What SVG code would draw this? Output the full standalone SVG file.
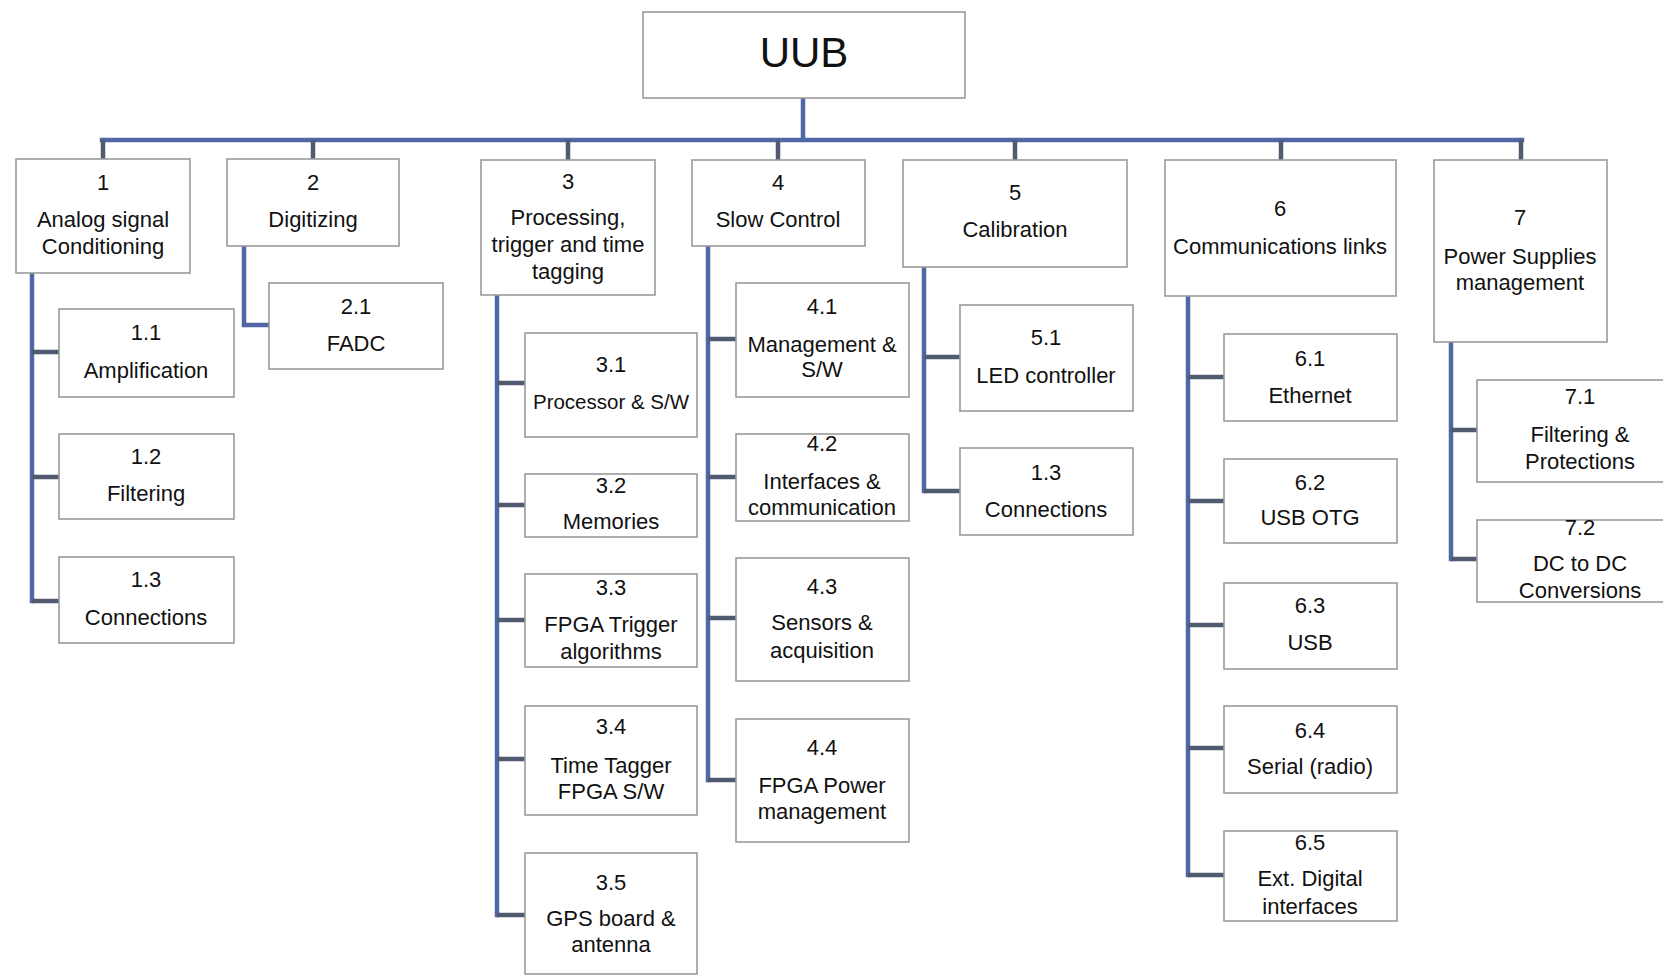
<svg xmlns="http://www.w3.org/2000/svg" width="1663" height="976" viewBox="0 0 1663 976">
<style>
.bg{fill:#ffffff}
.box{fill:#ffffff;stroke:#9a9a9a;stroke-width:1.6}
.t{font-family:"Liberation Sans",Arial,sans-serif;font-size:22px;fill:#111;text-anchor:middle}
.big{font-family:"Liberation Sans",Arial,sans-serif;font-size:42px;fill:#111;text-anchor:middle}
.conn{fill:none;stroke:#5067a6;stroke-width:4.5;stroke-linecap:square;stroke-linejoin:miter}
.drop{fill:none;stroke:#505a70;stroke-width:4.5}
</style>
<rect class="bg" x="0" y="0" width="1663" height="976"/>
<g id="connectors">
<path class="conn" d="M803 98 V140 M102 140 H1522"/>
<path class="drop" d="M103 140 V159 M313 140 V159 M568 140 V160 M778 140 V160 M1015 140 V160 M1281 140 V160 M1521 140 V160"/>
<path class="conn" d="M32 273 V601 M244 246 V325 H269 M497 295 V915 M708 246 V780 M924 267 V491 M1188 296 V875 M1451 342 V559"/>
<path class="drop" d="M32 352 H59 M32 477 H59 M32 601 H59"/>
<path class="drop" d="M497 383 H525 M497 505 H525 M497 620 H525 M497 759 H525 M497 915 H525"/>
<path class="drop" d="M708 339 H736 M708 477 H736 M708 618 H736 M708 780 H736"/>
<path class="drop" d="M924 357 H960 M924 491 H960"/>
<path class="drop" d="M1188 377 H1224 M1188 501 H1224 M1188 625 H1224 M1188 748 H1224 M1188 875 H1224"/>
<path class="drop" d="M1451 430 H1477 M1451 559 H1477"/>
</g>
<g id="uub"><rect class="box" x="643" y="12" width="322" height="86"/><text class="big" x="804" y="67">UUB</text></g>
<g id="n1"><rect class="box" x="16" y="159" width="174" height="114"/><text class="t" x="103" y="190">1</text><text class="t" x="103" y="227">Analog signal</text><text class="t" x="103" y="254">Conditioning</text></g>
<g id="n2"><rect class="box" x="227" y="159" width="172" height="87"/><text class="t" x="313" y="190">2</text><text class="t" x="313" y="227">Digitizing</text></g>
<g id="n3"><rect class="box" x="481" y="160" width="174" height="135"/><text class="t" x="568" y="189">3</text><text class="t" x="568" y="225">Processing,</text><text class="t" x="568" y="252">trigger and time</text><text class="t" x="568" y="279">tagging</text></g>
<g id="n4"><rect class="box" x="692" y="160" width="173" height="86"/><text class="t" x="778" y="190">4</text><text class="t" x="778" y="227">Slow Control</text></g>
<g id="n5"><rect class="box" x="903" y="160" width="224" height="107"/><text class="t" x="1015" y="200">5</text><text class="t" x="1015" y="237">Calibration</text></g>
<g id="n6"><rect class="box" x="1165" y="160" width="231" height="136"/><text class="t" x="1280" y="216">6</text><text class="t" x="1280" y="254">Communications links</text></g>
<g id="n7"><rect class="box" x="1434" y="160" width="173" height="182"/><text class="t" x="1520" y="225">7</text><text class="t" x="1520" y="264">Power Supplies</text><text class="t" x="1520" y="290">management</text></g>
<g id="n1_1"><rect class="box" x="59" y="309" width="175" height="88"/><text class="t" x="146" y="340">1.1</text><text class="t" x="146" y="378">Amplification</text></g>
<g id="n1_2"><rect class="box" x="59" y="434" width="175" height="85"/><text class="t" x="146" y="464">1.2</text><text class="t" x="146" y="501">Filtering</text></g>
<g id="n1_3"><rect class="box" x="59" y="557" width="175" height="86"/><text class="t" x="146" y="587">1.3</text><text class="t" x="146" y="625">Connections</text></g>
<g id="n2_1"><rect class="box" x="269" y="283" width="174" height="86"/><text class="t" x="356" y="314">2.1</text><text class="t" x="356" y="351">FADC</text></g>
<g id="n3_1"><rect class="box" x="525" y="333" width="172" height="104"/><text class="t" x="611" y="372">3.1</text><text class="t" x="611" y="409" style="font-size:20.5px">Processor &amp; S/W</text></g>
<g id="n3_2"><rect class="box" x="525" y="474" width="172" height="63"/><text class="t" x="611" y="493">3.2</text><text class="t" x="611" y="529">Memories</text></g>
<g id="n3_3"><rect class="box" x="525" y="574" width="172" height="93"/><text class="t" x="611" y="595">3.3</text><text class="t" x="611" y="632">FPGA Trigger</text><text class="t" x="611" y="659">algorithms</text></g>
<g id="n3_4"><rect class="box" x="525" y="706" width="172" height="109"/><text class="t" x="611" y="734">3.4</text><text class="t" x="611" y="773">Time Tagger</text><text class="t" x="611" y="799">FPGA S/W</text></g>
<g id="n3_5"><rect class="box" x="525" y="853" width="172" height="121"/><text class="t" x="611" y="890">3.5</text><text class="t" x="611" y="926">GPS board &amp;</text><text class="t" x="611" y="952">antenna</text></g>
<g id="n4_1"><rect class="box" x="736" y="283" width="173" height="114"/><text class="t" x="822" y="314">4.1</text><text class="t" x="822" y="352">Management &amp;</text><text class="t" x="822" y="377">S/W</text></g>
<g id="n4_2"><rect class="box" x="736" y="434" width="173" height="87"/><text class="t" x="822" y="451">4.2</text><text class="t" x="822" y="489">Interfaces &amp;</text><text class="t" x="822" y="515">communication</text></g>
<g id="n4_3"><rect class="box" x="736" y="558" width="173" height="123"/><text class="t" x="822" y="594">4.3</text><text class="t" x="822" y="630">Sensors &amp;</text><text class="t" x="822" y="658">acquisition</text></g>
<g id="n4_4"><rect class="box" x="736" y="719" width="173" height="123"/><text class="t" x="822" y="755">4.4</text><text class="t" x="822" y="793">FPGA Power</text><text class="t" x="822" y="819">management</text></g>
<g id="n5_1"><rect class="box" x="960" y="305" width="173" height="106"/><text class="t" x="1046" y="345">5.1</text><text class="t" x="1046" y="383">LED controller</text></g>
<g id="n5_2"><rect class="box" x="960" y="448" width="173" height="87"/><text class="t" x="1046" y="480">1.3</text><text class="t" x="1046" y="517">Connections</text></g>
<g id="n6_1"><rect class="box" x="1224" y="334" width="173" height="87"/><text class="t" x="1310" y="366">6.1</text><text class="t" x="1310" y="403">Ethernet</text></g>
<g id="n6_2"><rect class="box" x="1224" y="459" width="173" height="84"/><text class="t" x="1310" y="490">6.2</text><text class="t" x="1310" y="525">USB OTG</text></g>
<g id="n6_3"><rect class="box" x="1224" y="583" width="173" height="86"/><text class="t" x="1310" y="613">6.3</text><text class="t" x="1310" y="650">USB</text></g>
<g id="n6_4"><rect class="box" x="1224" y="706" width="173" height="87"/><text class="t" x="1310" y="738">6.4</text><text class="t" x="1310" y="774">Serial (radio)</text></g>
<g id="n6_5"><rect class="box" x="1224" y="831" width="173" height="90"/><text class="t" x="1310" y="850">6.5</text><text class="t" x="1310" y="886">Ext. Digital</text><text class="t" x="1310" y="914">interfaces</text></g>
<g id="n7_1"><rect class="box" x="1477" y="380" width="210" height="102"/><text class="t" x="1580" y="404">7.1</text><text class="t" x="1580" y="442">Filtering &amp;</text><text class="t" x="1580" y="469">Protections</text></g>
<g id="n7_2"><rect class="box" x="1477" y="520" width="210" height="82"/><text class="t" x="1580" y="535">7.2</text><text class="t" x="1580" y="571">DC to DC</text><text class="t" x="1580" y="598">Conversions</text></g>
</svg>
